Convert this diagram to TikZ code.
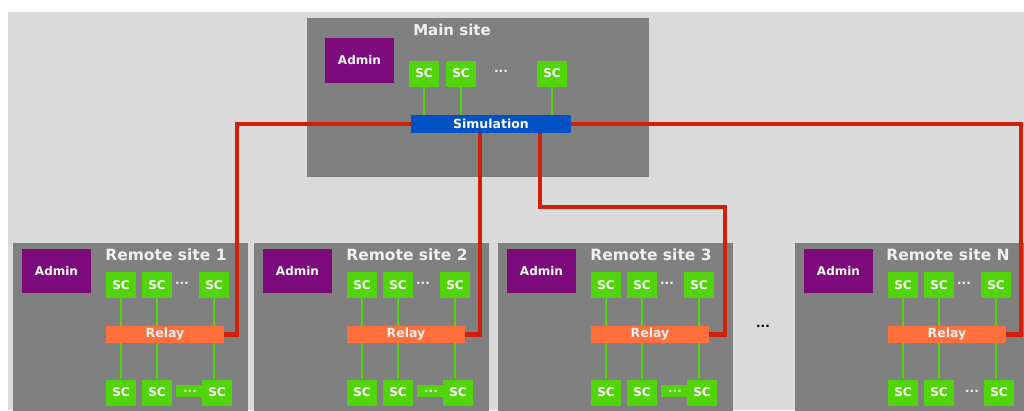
\documentclass[tikz,border=0pt]{standalone}
\usepackage{fontspec}
\setmainfont{DejaVu Sans}
\usepackage{tikz}
\definecolor{bggray}{RGB}{218,218,218}
\definecolor{sitegray}{RGB}{128,128,128}
\definecolor{adminpurple}{RGB}{125,10,125}
\definecolor{scgreen}{RGB}{82,212,10}
\definecolor{simblue}{RGB}{0,82,196}
\definecolor{relayorange}{RGB}{255,112,60}
\definecolor{linkred}{RGB}{208,32,12}
\definecolor{titlewhite}{RGB}{240,240,240}
\tikzset{
    sitenode/.style = {
        rectangle,
        fill=sitegray,
        anchor=north west,
        inner sep=0pt,
        outer sep=0mm
    },
    titlenode/.style = {
        text=titlewhite,
        font=\bfseries\fontsize{15.5}{17}\selectfont,
        inner sep=0pt
    },
    adminnode/.style = {
        rectangle,
        fill=adminpurple,
        text=white,
        font=\bfseries\fontsize{12}{13}\selectfont,
        minimum width=69pt,
        minimum height=44pt,
        inner sep=0pt
    },
    scnode/.style = {
        rectangle,
        fill=scgreen,
        text=white,
        font=\bfseries\fontsize{12}{13}\selectfont,
        minimum width=30pt,
        minimum height=26pt,
        inner sep=0pt
    },
    dotsnode/.style = {
        text=titlewhite,
        font=\bfseries\fontsize{12}{13}\selectfont,
        inner sep=0pt
    },
    patchnode/.style = {
        dotsnode,
        minimum width=28pt,
        minimum height=12pt
    },
    relaynode/.style = {
        rectangle,
        fill=relayorange,
        text=titlewhite,
        font=\bfseries\fontsize{12.5}{13}\selectfont,
        minimum width=118pt,
        minimum height=17pt,
        inner sep=0pt
    },
    simnode/.style = {
        relaynode,
        fill=simblue,
        text=white,
        minimum width=160pt,
        minimum height=18pt
    },
    redlink/.style = {draw=linkred, line width=4.5pt},
    greenlink/.style = {draw=scgreen, line width=2pt}
}

\begin{document}
\begin{tikzpicture}[x=1pt, y=-1pt]
    \clip (0,0) rectangle (1024,410);
    \fill [bggray] (8,12) rectangle (1024,410);

    % main site
    \node [sitenode, minimum width=342pt, minimum height=159pt] (main) at (307,18) {};
    \node [titlenode, font=\bfseries\fontsize{15}{16}\selectfont] (main-title) at (452,30) {Main site};
    \node [adminnode, minimum height=45pt] (main-admin) at (359.5,60.5) {Admin};
    \node [scnode] (main-sc1) at (424,73.5) {SC};
    \node [scnode] (main-sc2) at (461,73.5) {SC};
    \node [dotsnode] (main-dots) at (501,71) {...};
    \node [scnode] (main-sc3) at (552,73.5) {SC};
    \node [simnode] (sim) at (491,124) {Simulation};
    \foreach \k in {1,2,3} {
        \draw [greenlink] (main-sc\k.south) -- (main-sc\k.south |- sim.north);
    }

    % remote sites
    \foreach \n/\l/\s/\p in {1/13/1/scgreen, 2/254/2/scgreen, 3/498/3/scgreen, 4/795/N/sitegray} {
        \node [sitenode, minimum width=235pt, minimum height=180pt] (r\n) at (\l,243) {};
        \node [titlenode] (r\n-title) at ({\l+153},255) {Remote site \s};
        \node [adminnode] (r\n-admin) at ({\l+43.5},271) {Admin};
        \node [scnode] (r\n-t1) at ({\l+108},285) {SC};
        \node [scnode] (r\n-t2) at ({\l+144},285) {SC};
        \node [dotsnode] (r\n-tdots) at ({\l+169},283) {...};
        \node [scnode] (r\n-t3) at ({\l+201},285) {SC};
        \node [relaynode] (r\n-relay) at ({\l+152},334.5) {Relay};
        \node [scnode] (r\n-b1) at ({\l+108},392.5) {SC};
        \node [scnode] (r\n-b2) at ({\l+144},392.5) {SC};
        \node [patchnode, fill=\p] (r\n-bdots) at ({\l+177},391) {...};
        \node [scnode] (r\n-b3) at ({\l+204},392.5) {SC};
        \foreach \k in {1,2,3} {
            \draw [greenlink] (r\n-t\k.south) -- (r\n-t\k.south |- r\n-relay.north);
            \draw [greenlink] (r\n-t\k.south |- r\n-relay.south) -- (r\n-t\k.south |- r\n-b\k.north);
        }
    }
    \node [dotsnode, text=black] (more) at (763,326) {...};

    % links from simulation to relays
    \coordinate (k1) at (237,200);
    \coordinate (k2) at (480,200);
    \coordinate (k3) at (540,207);
    \coordinate (k3b) at (725,207);
    \coordinate (k4) at (1021,200);
    \draw [redlink] (sim.west) -| (k1) |- (r1-relay.east);
    \draw [redlink] (sim.south -| k2) |- (r2-relay.east);
    \draw [redlink] (sim.south -| k3) -- (k3) -- (k3b) |- (r3-relay.east);
    \draw [redlink] (sim.east) -| (k4) |- (r4-relay.east);
\end{tikzpicture}
\end{document}
